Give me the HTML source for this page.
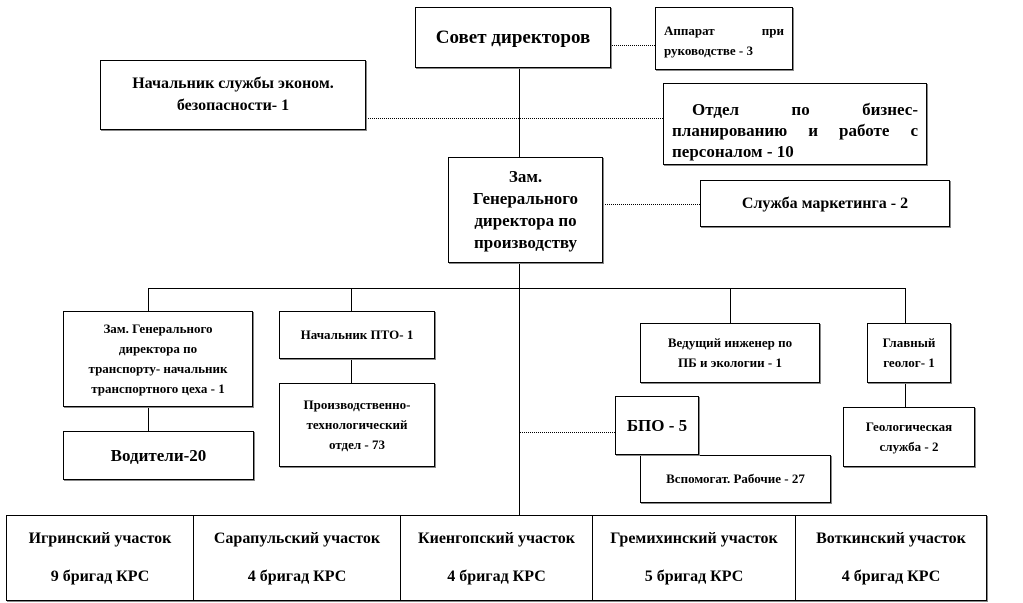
<!DOCTYPE html>
<html><head><meta charset="utf-8"><style>
body{margin:0;width:1023px;height:603px;background:#fff;position:relative;overflow:hidden;font-family:"Liberation Serif",serif;font-weight:bold;color:#000}
.b{position:absolute;border:1px solid #000;background:#fff;box-sizing:border-box;display:flex;align-items:center;justify-content:center;text-align:center;box-shadow:1px 1px 0 #888}
.l{position:absolute;background:#000}
.d{position:absolute;border-top:1px dotted #000;height:0}
</style></head><body>
<div class="l" style="left:519px;top:68px;width:1px;height:447px"></div>
<div class="d" style="left:366px;top:118px;width:297px"></div>
<div class="d" style="left:603px;top:45px;width:52px"></div>
<div class="d" style="left:603px;top:204px;width:97px"></div>
<div class="l" style="left:148px;top:288px;width:757px;height:1px"></div>
<div class="l" style="left:148px;top:288px;width:1px;height:143px"></div>
<div class="l" style="left:351px;top:288px;width:1px;height:95px"></div>
<div class="l" style="left:730px;top:288px;width:1px;height:35px"></div>
<div class="l" style="left:905px;top:288px;width:1px;height:119px"></div>
<div class="d" style="left:519px;top:432px;width:96px"></div>

<div class="b" style="left:415px;top:7px;width:196px;height:61px;font-size:19px">Совет директоров</div>
<div class="b" style="left:655px;top:7px;width:138px;height:63px;font-size:13px;text-align:justify;text-align-last:left;padding:0 8px;line-height:20px;display:block;padding-top:13px">Аппарат при руководстве - 3</div>
<div class="b" style="left:100px;top:60px;width:266px;height:70px;font-size:16px;line-height:22px">Начальник службы эконом.<br>безопасности- 1</div>
<div class="b" style="left:663px;top:83px;width:264px;height:82px;font-size:17px;line-height:21px;display:block;padding:15px 8px 0 8px;text-align:justify;text-indent:20px">Отдел по бизнес-планированию и работе с персоналом - 10</div>
<div class="b" style="left:448px;top:157px;width:155px;height:106px;font-size:17px;line-height:22px">Зам.<br>Генерального директора по производству</div>
<div class="b" style="left:700px;top:180px;width:250px;height:47px;font-size:16px">Служба маркетинга - 2</div>

<div class="b" style="left:63px;top:311px;width:190px;height:96px;font-size:13px;line-height:20px">Зам. Генерального<br>директора по<br>транспорту- начальник<br>транспортного цеха - 1</div>
<div class="b" style="left:63px;top:431px;width:191px;height:49px;font-size:17px">Водители-20</div>
<div class="b" style="left:279px;top:311px;width:156px;height:48px;font-size:13px">Начальник ПТО- 1</div>
<div class="b" style="left:279px;top:383px;width:156px;height:84px;font-size:13px;line-height:20px">Производственно-<br>технологический<br>отдел - 73</div>
<div class="b" style="left:640px;top:323px;width:180px;height:60px;font-size:13px;line-height:20px">Ведущий инженер по<br>ПБ и экологии - 1</div>
<div class="b" style="left:867px;top:323px;width:84px;height:60px;font-size:13px;line-height:20px">Главный<br>геолог- 1</div>
<div class="b" style="left:843px;top:407px;width:132px;height:60px;font-size:13px;line-height:20px">Геологическая<br>служба - 2</div>
<div class="b" style="left:640px;top:455px;width:191px;height:48px;font-size:13px">Вспомогат. Рабочие - 27</div>
<div class="b" style="left:615px;top:396px;width:84px;height:59px;font-size:17px">БПО - 5</div>

<div class="b" style="left:6px;top:515px;width:188px;height:86px;font-size:16px;line-height:38px">Игринский участок<br>9 бригад КРС</div>
<div class="b" style="left:193px;top:515px;width:208px;height:86px;font-size:16px;line-height:38px">Сарапульский участок<br>4 бригад КРС</div>
<div class="b" style="left:400px;top:515px;width:193px;height:86px;font-size:16px;line-height:38px">Киенгопский участок<br>4 бригад КРС</div>
<div class="b" style="left:592px;top:515px;width:204px;height:86px;font-size:16px;line-height:38px">Гремихинский участок<br>5 бригад КРС</div>
<div class="b" style="left:795px;top:515px;width:192px;height:86px;font-size:16px;line-height:38px">Воткинский участок<br>4 бригад КРС</div>
</body></html>
